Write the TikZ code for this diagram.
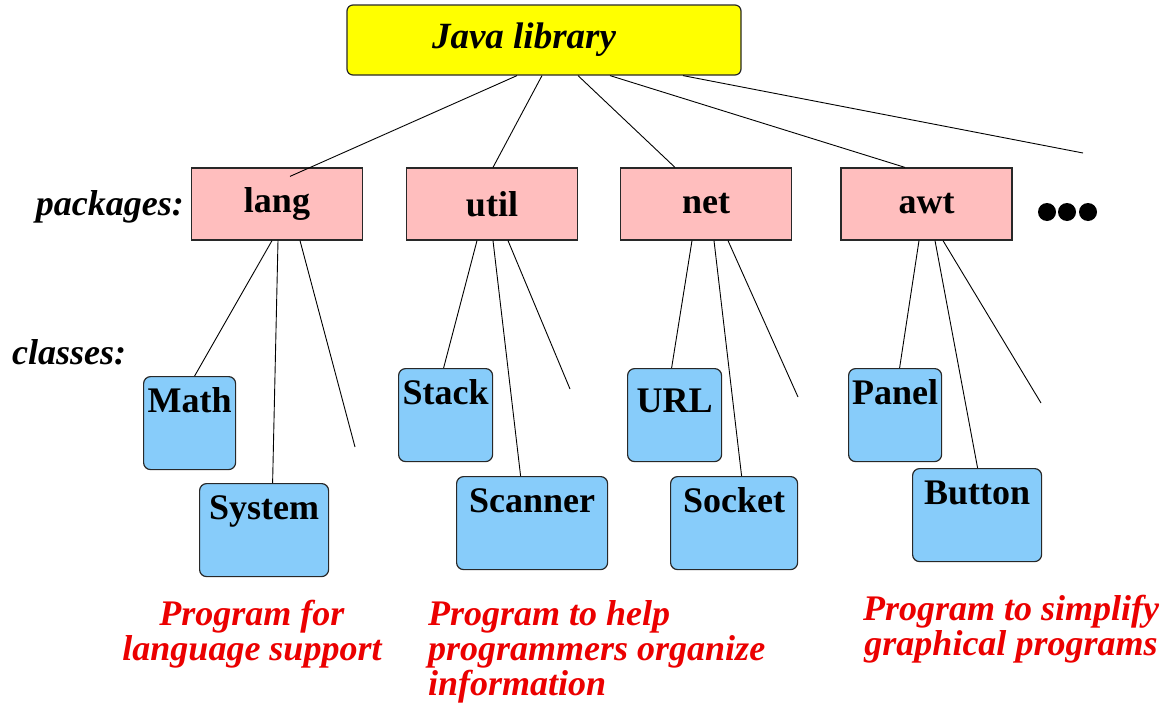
\documentclass[tikz,border=0pt]{standalone}
\usepackage{fontspec}
\setmainfont{Liberation Serif}

\definecolor{libyellow}{RGB}{255,255,0}
\definecolor{pkgpink}{RGB}{255,190,190}
\definecolor{clsblue}{RGB}{135,204,250}
\definecolor{notered}{RGB}{235,0,0}
\definecolor{edgegray}{RGB}{40,40,40}

\tikzset{
  bigtext/.style={font=\fontsize{36}{35}\selectfont\bfseries},
  pkgbox/.style={draw=edgegray, line width=1.2pt, rectangle, fill=pkgpink, minimum width=171pt, minimum height=72pt, inner sep=0pt, bigtext},
  clsbox/.style={draw=edgegray, line width=1.2pt, rectangle, rounded corners=7pt, fill=clsblue, anchor=north west, minimum height=93pt, inner xsep=0pt, inner ysep=3pt, text height=33pt, text depth=54pt, bigtext},
  note/.style={text=notered, inner sep=0pt, font=\fontsize{36}{35}\selectfont\bfseries\itshape},
  branch/.style={draw=black, line width=0.9pt},
  dot/.style={circle, fill=black, inner sep=0pt, minimum size=18pt}
}

\begin{document}
\begin{tikzpicture}[x=1pt, y=-1pt]
\path[use as bounding box, fill=white] (0,0) rectangle (1171,704);

% Library root
\node[draw=edgegray, line width=1.2pt, rectangle, rounded corners=6pt, fill=libyellow, minimum width=394pt, minimum height=70pt, inner sep=0pt, font=\fontsize{37}{37}\selectfont\bfseries\itshape] (java) at (544,40) {Java library\kern40pt};

% Packages
\node[anchor=base east, inner sep=0pt, font=\fontsize{36}{35}\selectfont\bfseries\itshape] (pkglabel) at (184,215) {packages:};
\node[pkgbox] (lang) at (277,204) {lang};
\node[pkgbox] (util) at (492,204) {util};
\node[pkgbox] (net) at (706,204) {net};
\node[pkgbox] (awt) at (926.5,204) {awt};
\foreach \i/\x in {1/1047,2/1067,3/1088}
  \node[dot] (dot\i) at (\x,212) {};

% Classes
\node[anchor=base west, inner sep=0pt, font=\fontsize{36}{35}\selectfont\bfseries\itshape] (clslabel) at (12,364) {classes:};
\node[clsbox, minimum width=92pt] (math) at (143,376) {Math};
\node[clsbox, minimum width=129pt] (system) at (199,483) {System};
\node[clsbox, minimum width=94pt] (stack) at (398,368) {Stack};
\node[clsbox, minimum width=151pt] (scanner) at (456,476) {Scanner};
\node[clsbox, minimum width=94pt, text height=41pt, text depth=46pt] (url) at (627,368) {URL};
\node[clsbox, minimum width=127pt] (socket) at (670,476) {Socket};
\node[clsbox, minimum width=93pt] (panel) at (848,368) {Panel};
\node[clsbox, minimum width=129pt] (button) at (912,468) {Button};

% Free ends
\coordinate (morepkg) at (1083,153);
\coordinate (morelang) at (355,447);
\coordinate (moreutil) at (570,389);
\coordinate (morenet) at (798,397);
\coordinate (moreawt) at (1041,403);

% Lines from the root
\draw[branch] ([xshift=-27pt]java.south) -- ([xshift=13pt, yshift=-9pt]lang.north);
\draw[branch] ([xshift=-2pt]java.south) -- ([xshift=1pt]util.north);
\draw[branch] ([xshift=34pt]java.south) -- ([xshift=-31pt]net.north);
\draw[branch] ([xshift=66pt]java.south) -- ([xshift=-21.5pt]awt.north);
\draw[branch] ([xshift=139pt]java.south) -- (morepkg);

% Lines to the classes
\draw[branch] ([xshift=-5pt]lang.south) -- ([xshift=5pt]math.north);
\draw[branch] ([xshift=1pt]lang.south) -- ([xshift=8.5pt]system.north);
\draw[branch] ([xshift=23pt]lang.south) -- (morelang);
\draw[branch] ([xshift=-15pt]util.south) -- ([xshift=-2pt]stack.north);
\draw[branch] ([xshift=1pt]util.south) -- ([xshift=-11.5pt]scanner.north);
\draw[branch] ([xshift=16pt]util.south) -- (moreutil);
\draw[branch] ([xshift=-14pt]net.south) -- ([xshift=-3pt]url.north);
\draw[branch] ([xshift=8pt]net.south) -- ([xshift=7.5pt]socket.north);
\draw[branch] ([xshift=22pt]net.south) -- (morenet);
\draw[branch] ([xshift=-7.5pt]awt.south) -- ([xshift=4.5pt]panel.north);
\draw[branch] ([xshift=8.5pt]awt.south) -- ([xshift=0.5pt]button.north);
\draw[branch] ([xshift=16.5pt]awt.south) -- (moreawt);

% Notes
\node[note, anchor=north, align=center] (langnote) at (252,600) {Program for\\language support};
\node[note, anchor=north west, align=left] (utilnote) at (428,600) {Program to help\\programmers organize\\information};
\node[note, anchor=north, align=center] (awtnote) at (1011,595) {Program to simplify\\graphical programs};

\end{tikzpicture}
\end{document}
